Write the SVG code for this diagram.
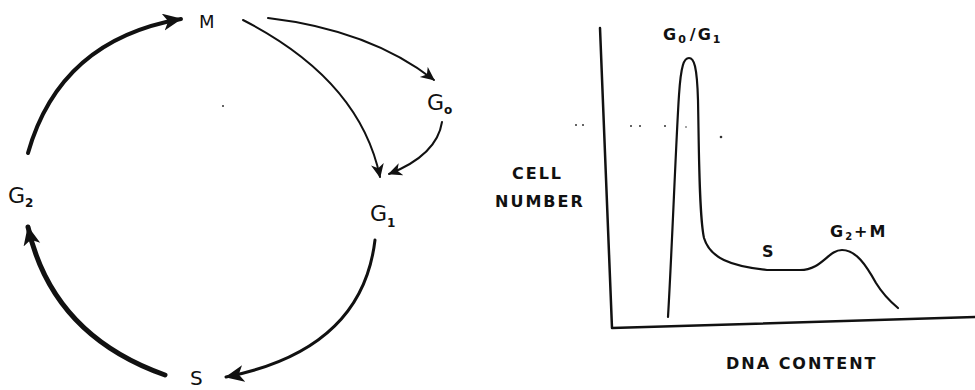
<svg xmlns="http://www.w3.org/2000/svg" width="975" height="390" viewBox="0 0 975 390">
<style>
.lbl{font-family:"DejaVu Sans","Liberation Sans",sans-serif;fill:#111}
.big{font-size:22px}
.sub{font-size:12px;font-weight:bold}
.ax{font-family:"DejaVu Sans","Liberation Sans",sans-serif;fill:#111;font-size:16px;font-weight:bold;letter-spacing:2px}
.c{fill:none;stroke:#111;stroke-linecap:round}
</style>
<defs>
<marker id="ah" markerUnits="userSpaceOnUse" markerWidth="22" markerHeight="20" refX="18" refY="8.5" orient="auto">
<path d="M0,0 L19,8.5 L0,17 L5,8.5 z" fill="#111"/>
</marker>
<marker id="as" markerUnits="userSpaceOnUse" markerWidth="16" markerHeight="14" refX="13" refY="6.5" orient="auto">
<path d="M0,0 L14,6.5 L0,13 L4,6.5 z" fill="#111"/>
</marker>
</defs>
<rect width="975" height="390" fill="#fff"/>

<g id="connectors">
<path class="c" d="M28,153 Q60,40 181,19" stroke-width="4" marker-end="url(#ah)"/>
<path class="c" d="M165,375 Q52,335 28,227" stroke-width="5" marker-end="url(#ah)"/>
<path class="c" d="M375,240 Q362,350 226,377" stroke-width="3" marker-end="url(#ah)"/>
<path class="c" d="M243,20 Q360,80 380,177" stroke-width="2" marker-end="url(#as)"/>
<path class="c" d="M268,18 Q370,30 434,80" stroke-width="2" marker-end="url(#as)"/>
<path class="c" d="M442,122 Q437,155 389,174" stroke-width="2" marker-end="url(#as)"/>
</g>

<g id="node-M"><text class="lbl" x="199" y="28" font-size="18">M</text></g>
<g id="node-G0"><text class="lbl big" x="427" y="110">G<tspan class="sub" dy="4">o</tspan></text></g>
<g id="node-G1"><text class="lbl big" x="370" y="221">G<tspan class="sub" dy="6">1</tspan></text></g>
<g id="node-G2"><text class="lbl big" x="8" y="203">G<tspan class="sub" dy="4">2</tspan></text></g>
<g id="node-S"><text class="lbl" x="190" y="385" font-size="20">S</text></g>

<g id="plot">
<path class="c" d="M600,28 L612,328 L975,317" stroke-width="2.5" stroke-linejoin="round"/>
<path class="c" d="M668,317 C672,250 676,140 679,95 C681,65 684,58 689,58 C694,58 697,66 698,100 C699,150 699,215 704,238 C710,258 730,266 767,270 L800,270 C822,270 828,250 842,250 C856,250 866,265 876,283 C884,296 892,303 898,308" stroke-width="2.2"/>
<text class="ax" x="512" y="179" letter-spacing="3">CELL</text>
<text class="ax" x="495" y="207" letter-spacing="2.5">NUMBER</text>
<text class="ax" x="726" y="369" letter-spacing="4">DNA CONTENT</text>
<text class="ax" x="762" y="257">S</text>
<text class="ax" x="663" y="40">G<tspan font-size="11" dy="3">0</tspan><tspan dy="-3" dx="2">/G</tspan><tspan font-size="11" dy="3">1</tspan></text>
<text class="ax" x="830" y="237" letter-spacing="3">G<tspan font-size="10" dy="3">2</tspan><tspan dy="-3">+M</tspan></text>
<g fill="#333">
<circle cx="576" cy="125" r="1"/><circle cx="583" cy="125" r="1"/>
<circle cx="631" cy="126" r="1"/><circle cx="640" cy="126" r="1"/>
<circle cx="665" cy="126" r="1"/><circle cx="686" cy="127" r="0.8"/>
<circle cx="721" cy="137" r="1.3"/><circle cx="223" cy="106" r="1"/>
</g>
</g>
</svg>
